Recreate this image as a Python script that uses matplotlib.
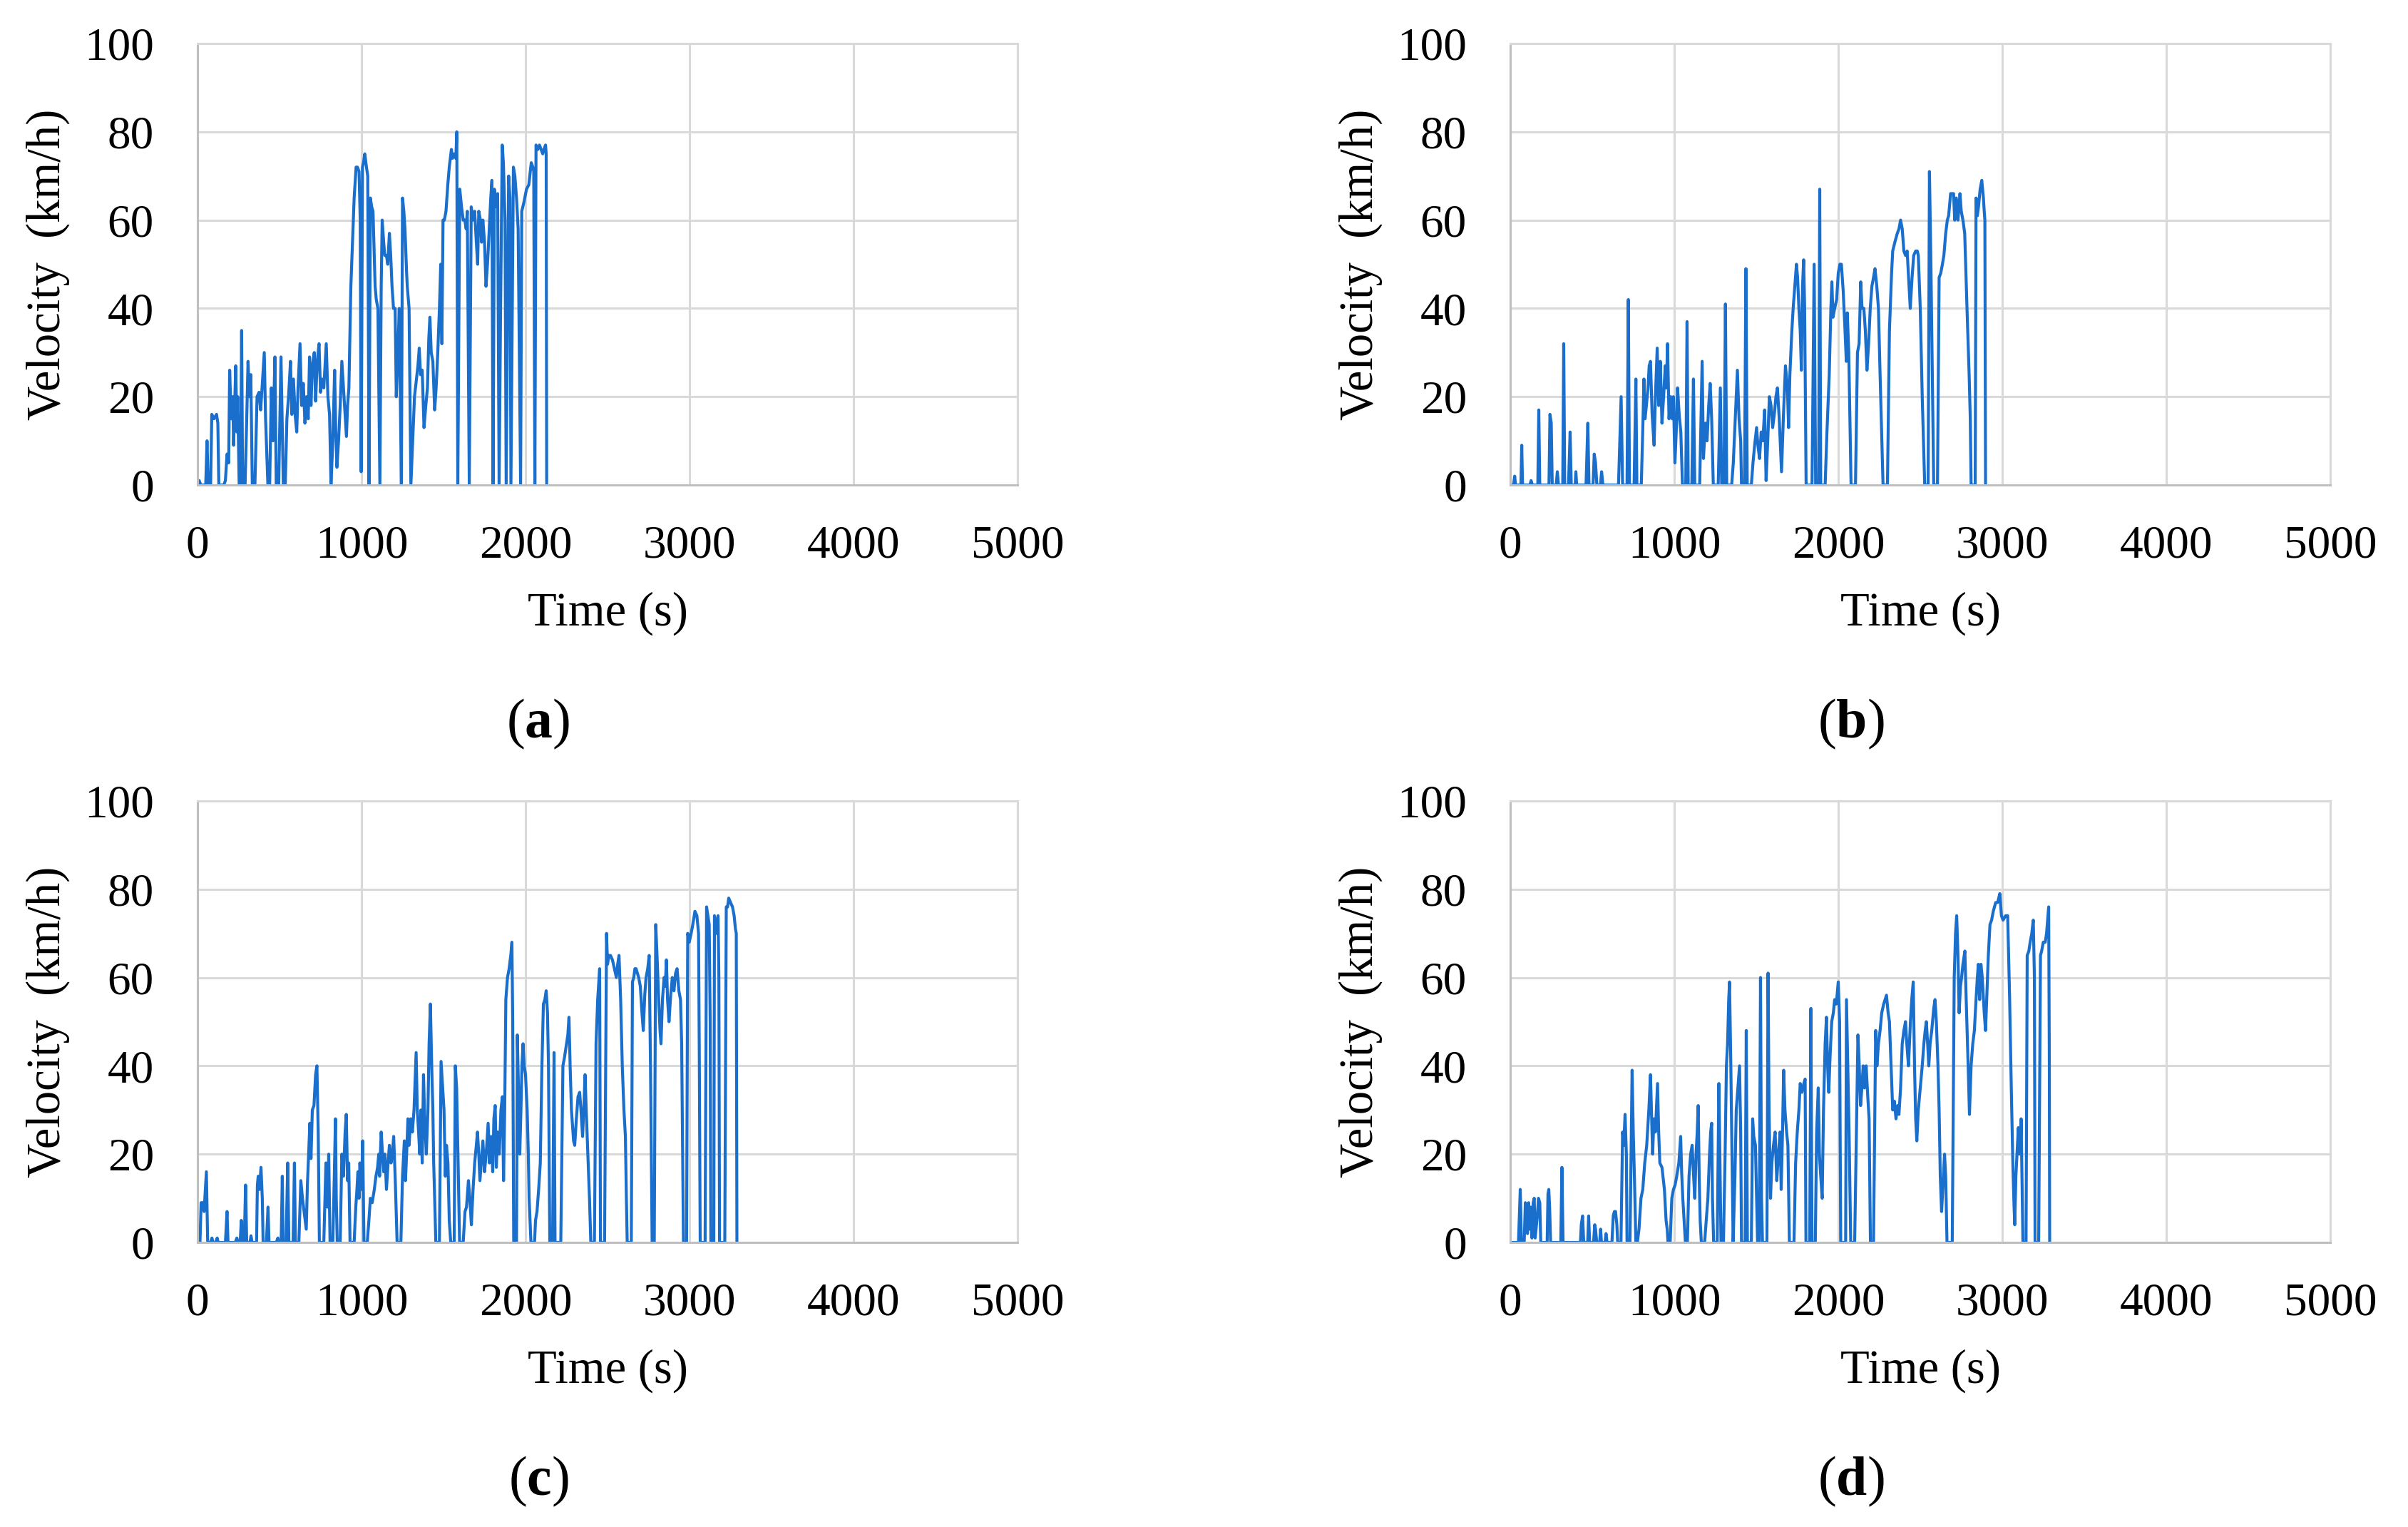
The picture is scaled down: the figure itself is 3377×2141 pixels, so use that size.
import numpy as np
import matplotlib
matplotlib.use("Agg")
import matplotlib.pyplot as plt

plt.rcParams["font.family"] = ["Liberation Serif", "DejaVu Serif"]
plt.rcParams["mathtext.fontset"] = "custom"
plt.rcParams["mathtext.rm"] = "Liberation Serif"
plt.rcParams["mathtext.bf"] = "Liberation Serif:bold"

# (time s, velocity km/h)
trace_a = [(0,0),(10,1),(20,0),(50,0),(58,10),(65,0),(80,0),(87,16),(100,15),(116,16),(124,14),(130,0),(160,0),(170,1),(180,7),(190,5),(196,26),(205,15),(215,20),(220,9),(233,27),(240,12),(245,20),(254,0),(262,0),(269,35),(275,0),(290,0),(300,15),(308,28),(316,20),(325,25),(334,0),(350,0),(363,20),(375,21),(385,17),(395,23),(407,30),(415,15),(429,0),(440,0),(450,22),(460,10),(472,29),(480,0),(495,0),(509,29),(516,15),(523,0),(535,0),(545,15),(555,20),(567,28),(575,16),(585,24),(595,16),(605,12),(613,22),(625,32),(635,18),(645,23),(655,14),(665,20),(675,15),(683,29),(692,18),(700,27),(712,30),(720,19),(730,28),(741,32),(750,21),(758,24),(770,22),(785,32),(795,20),(805,16),(814,0),(825,10),(836,26),(843,12),(850,4),(860,10),(870,18),(880,28),(890,22),(900,16),(908,11),(915,18),(923,22),(935,45),(945,55),(955,65),(967,72),(975,72),(985,71),(992,60),(998,3),(1006,72),(1012,73),(1020,75),(1030,72),(1038,70),(1046,0),(1054,65),(1062,63),(1070,62),(1083,45),(1090,42),(1100,40),(1112,0),(1120,45),(1126,60),(1135,55),(1142,52),(1152,52),(1160,50),(1170,57),(1178,52),(1186,45),(1195,40),(1205,40),(1212,20),(1222,30),(1230,40),(1243,0),(1250,65),(1258,62),(1265,58),(1275,48),(1279,45),(1290,40),(1301,0),(1312,10),(1323,20),(1335,24),(1344,27),(1352,31),(1360,25),(1370,26),(1381,13),(1392,18),(1402,22),(1410,33),(1417,38),(1425,30),(1435,28),(1446,17),(1455,22),(1465,30),(1475,40),(1483,50),(1490,32),(1497,60),(1505,60),(1515,62),(1526,68),(1535,72),(1548,76),(1555,74),(1565,75),(1575,74),(1581,80),(1587,0),(1599,67),(1610,63),(1620,60),(1630,60),(1638,58),(1645,62),(1657,0),(1669,63),(1680,60),(1690,62),(1700,55),(1708,50),(1715,62),(1725,60),(1732,55),(1740,60),(1750,55),(1759,45),(1768,50),(1775,55),(1788,65),(1795,69),(1802,0),(1810,67),(1820,63),(1830,66),(1839,0),(1848,40),(1858,77),(1865,73),(1875,60),(1882,0),(1897,70),(1905,65),(1911,0),(1926,72),(1935,70),(1945,65),(1955,58),(1970,0),(1977,62),(1990,64),(2006,67),(2020,68),(2035,73),(2045,72),(2050,71),(2057,0),(2064,77),(2075,76),(2085,77),(2095,76),(2105,75),(2112,76),(2122,77),(2126,75),(2129,0)]

trace_b = [(0,0),(20,0),(27,2),(32,0),(65,0),(70,9),(75,0),(120,0),(127,1),(135,0),(168,0),(174,17),(180,0),(236,0),(242,16),(250,14),(256,0),(280,0),(287,3),(294,0),(320,0),(326,32),(332,0),(355,0),(365,12),(372,0),(396,0),(400,3),(405,0),(462,0),(473,14),(480,0),(505,0),(512,7),(520,5),(528,0),(550,0),(557,3),(565,0),(660,0),(676,20),(685,0),(712,0),(720,42),(727,0),(755,0),(766,24),(772,0),(799,0),(809,14),(815,24),(822,15),(830,18),(840,22),(847,27),(855,28),(865,16),(877,9),(885,20),(896,31),(905,18),(915,28),(925,14),(935,20),(945,27),(952,22),(959,32),(968,15),(978,20),(987,15),(995,20),(1004,5),(1012,12),(1020,22),(1030,16),(1040,12),(1050,0),(1070,0),(1078,37),(1085,0),(1107,0),(1117,24),(1125,0),(1155,0),(1170,28),(1178,6),(1190,14),(1200,10),(1210,18),(1219,23),(1228,15),(1238,0),(1268,0),(1281,22),(1289,0),(1303,0),(1312,41),(1320,0),(1350,0),(1360,5),(1372,15),(1385,26),(1395,15),(1405,10),(1410,0),(1428,0),(1437,49),(1445,0),(1470,0),(1480,5),(1490,9),(1502,13),(1510,9),(1520,6),(1530,12),(1540,10),(1551,17),(1560,1),(1570,10),(1580,20),(1590,18),(1600,13),(1610,16),(1620,20),(1629,22),(1640,15),(1654,3),(1665,15),(1678,27),(1690,22),(1697,13),(1705,25),(1717,35),(1725,40),(1735,45),(1745,50),(1752,47),(1760,40),(1768,35),(1775,26),(1782,45),(1789,51),(1795,40),(1804,0),(1840,0),(1853,50),(1862,0),(1880,0),(1887,67),(1893,0),(1920,0),(1931,12),(1945,25),(1955,40),(1961,46),(1968,38),(1978,40),(1990,42),(2000,48),(2010,50),(2019,50),(2030,44),(2040,36),(2049,28),(2055,39),(2064,30),(2078,0),(2105,0),(2117,30),(2127,32),(2137,46),(2145,40),(2156,40),(2165,35),(2175,26),(2185,32),(2195,40),(2205,45),(2215,47),(2224,49),(2235,45),(2245,40),(2255,25),(2273,0),(2300,0),(2312,35),(2325,48),(2332,53),(2345,55),(2360,57),(2370,58),(2380,60),(2390,58),(2400,53),(2410,52),(2420,53),(2430,46),(2439,40),(2450,47),(2460,52),(2472,53),(2482,53),(2488,52),(2500,40),(2512,20),(2527,0),(2548,0),(2556,71),(2565,50),(2575,20),(2582,0),(2605,0),(2615,47),(2625,48),(2635,50),(2644,52),(2655,57),(2665,60),(2673,61),(2685,66),(2695,66),(2703,66),(2710,60),(2720,65),(2730,60),(2742,66),(2750,62),(2760,60),(2771,57),(2785,40),(2798,25),(2805,15),(2810,0),(2835,0),(2840,65),(2848,61),(2855,63),(2865,67),(2875,69),(2885,65),(2890,62),(2894,60),(2898,0)]

trace_c = [(0,0),(15,0),(22,9),(30,9),(40,7),(54,16),(62,0),(80,0),(88,1),(94,0),(110,0),(120,1),(126,0),(170,0),(180,7),(186,0),(230,0),(240,1),(246,0),(260,0),(267,5),(275,0),(285,0),(293,13),(300,0),(320,0),(326,1.5),(333,0),(360,0),(365,13),(370,15),(378,12),(387,17),(395,10),(400,0),(420,0),(430,8),(436,0),(480,0),(490,1),(496,0),(510,0),(517,15),(522,0),(540,0),(550,18),(557,0),(583,0),(591,18),(597,0),(618,0),(630,14),(640,10),(650,7),(663,3),(670,13),(685,27),(692,19),(700,30),(710,31),(720,38),(728,40),(736,25),(743,0),(770,0),(783,18),(792,8),(800,20),(808,0),(825,0),(834,15),(841,28),(846,10),(852,0),(870,0),(880,20),(890,15),(900,25),(907,29),(915,14),(922,18),(930,0),(955,0),(965,8),(972,12),(978,16),(985,10),(990,18),(1000,12),(1007,23),(1015,0),(1035,0),(1045,5),(1054,10),(1065,9),(1078,12),(1088,15),(1098,17),(1105,20),(1110,15),(1120,25),(1128,20),(1135,16),(1143,20),(1152,12),(1162,18),(1170,22),(1180,18),(1188,20),(1196,24),(1205,15),(1217,0),(1240,0),(1250,15),(1261,23),(1268,14),(1275,20),(1283,28),(1290,22),(1300,28),(1310,25),(1320,30),(1333,43),(1340,30),(1348,25),(1355,20),(1362,30),(1370,18),(1378,38),(1385,28),(1395,20),(1405,30),(1412,45),(1420,54),(1428,40),(1435,30),(1440,18),(1446,10),(1453,0),(1475,0),(1485,41),(1495,35),(1503,30),(1511,15),(1518,22),(1527,18),(1535,5),(1544,0),(1565,0),(1572,40),(1580,35),(1588,20),(1598,0),(1620,0),(1631,7),(1640,8),(1652,14),(1660,10),(1670,4),(1680,12),(1690,18),(1700,22),(1707,25),(1715,20),(1722,14),(1730,18),(1740,23),(1750,16),(1760,20),(1772,27),(1780,18),(1790,24),(1800,16),(1807,28),(1815,31),(1822,17),(1830,25),(1840,20),(1850,30),(1859,33),(1866,14),(1873,30),(1880,55),(1890,60),(1900,62),(1910,65),(1917,68),(1922,50),(1928,0),(1945,0),(1950,47),(1957,35),(1965,20),(1972,30),(1978,40),(1985,45),(1992,40),(2000,38),(2010,30),(2017,20),(2022,10),(2033,0),(2055,0),(2061,5),(2070,7),(2080,12),(2090,18),(2100,40),(2109,54),(2118,55),(2126,57),(2134,52),(2140,40),(2148,0),(2165,0),(2174,43),(2180,0),(2215,0),(2228,40),(2238,42),(2250,45),(2258,47),(2265,51),(2272,40),(2280,30),(2293,23),(2300,22),(2310,28),(2320,33),(2330,34),(2338,30),(2348,24),(2355,30),(2363,38),(2370,30),(2380,20),(2390,10),(2398,0),(2420,0),(2430,45),(2440,55),(2452,62),(2457,0),(2482,0),(2494,70),(2500,63),(2508,65),(2518,65),(2530,64),(2542,62),(2554,60),(2562,63),(2570,65),(2580,55),(2590,40),(2600,30),(2609,24),(2615,10),(2620,0),(2645,0),(2652,59),(2660,60),(2667,62),(2674,62),(2682,61),(2690,60),(2700,58),(2710,52),(2718,48),(2727,56),(2735,60),(2745,62),(2754,65),(2762,40),(2772,0),(2785,0),(2794,72),(2803,64),(2812,55),(2820,48),(2826,45),(2835,55),(2845,60),(2852,58),(2859,64),(2866,55),(2875,50),(2885,56),(2895,60),(2905,57),(2915,61),(2924,62),(2935,57),(2945,55),(2952,45),(2958,20),(2963,0),(2982,0),(2989,70),(2998,68),(3010,70),(3020,72),(3033,75),(3045,74),(3055,70),(3060,40),(3065,0),(3095,0),(3104,76),(3112,74),(3120,72),(3126,50),(3130,0),(3148,0),(3152,74),(3160,72),(3166,70),(3174,74),(3179,60),(3183,0),(3215,0),(3224,76),(3232,76),(3239,78),(3250,77),(3262,76),(3272,74),(3280,71),(3285,70),(3289,0)]

trace_d = [(0,0),(50,0),(61,12),(68,0),(85,0),(92,9),(98,8),(105,2),(112,9),(118,3),(125,8),(132,1),(140,9),(146,10),(152,1),(165,6),(172,10),(180,9),(186,0),(225,0),(230,11),(235,12),(240,8),(246,0),(308,0),(315,17),(322,0),(428,0),(433,4),(441,6),(448,0),(472,0),(478,6),(484,0),(508,0),(515,4),(520,3),(527,0),(545,0),(551,3),(556,0),(578,0),(584,2),(590,0),(620,0),(628,6),(635,7),(642,7),(650,4),(655,0),(675,0),(685,25),(692,22),(700,29),(708,20),(712,0),(730,0),(743,39),(750,25),(757,15),(766,0),(775,0),(785,3),(797,10),(808,12),(820,18),(832,22),(845,30),(855,38),(862,28),(868,20),(876,28),(885,25),(898,36),(905,25),(912,18),(925,17),(940,12),(950,5),(957,3),(962,0),(975,0),(985,10),(995,12),(1005,13),(1015,15),(1028,18),(1039,24),(1045,16),(1052,10),(1060,5),(1068,0),(1080,0),(1090,15),(1100,20),(1109,22),(1118,15),(1125,10),(1133,20),(1140,25),(1146,31),(1152,15),(1158,5),(1165,0),(1185,0),(1195,5),(1205,10),(1215,20),(1222,25),(1228,27),(1233,10),(1240,0),(1262,0),(1272,36),(1278,20),(1285,0),(1300,0),(1310,20),(1318,40),(1325,45),(1332,55),(1337,59),(1345,40),(1352,20),(1359,0),(1370,15),(1378,30),(1388,35),(1398,40),(1405,25),(1410,0),(1432,0),(1439,48),(1446,0),(1470,0),(1478,28),(1485,24),(1495,22),(1502,10),(1508,0),(1518,0),(1526,60),(1532,10),(1538,0),(1565,0),(1572,61),(1578,30),(1587,10),(1595,18),(1605,22),(1615,25),(1625,14),(1635,20),(1645,25),(1652,12),(1660,25),(1667,39),(1675,30),(1685,25),(1693,22),(1702,0),(1730,0),(1740,18),(1750,25),(1760,30),(1768,36),(1778,34),(1790,36),(1798,37),(1803,0),(1826,0),(1833,53),(1840,0),(1860,0),(1868,25),(1878,35),(1885,20),(1893,15),(1902,10),(1910,30),(1920,45),(1928,51),(1935,40),(1942,34),(1950,42),(1960,50),(1970,52),(1978,55),(1988,54),(2000,59),(2008,50),(2015,0),(2045,0),(2050,55),(2058,40),(2066,25),(2076,0),(2100,0),(2113,30),(2120,47),(2128,40),(2136,31),(2144,35),(2152,40),(2160,35),(2170,40),(2180,33),(2188,28),(2196,0),(2215,0),(2228,48),(2236,40),(2245,45),(2255,48),(2265,52),(2277,54),(2294,56),(2304,52),(2312,50),(2322,40),(2332,30),(2342,32),(2352,28),(2362,31),(2370,29),(2380,35),(2390,45),(2400,48),(2410,50),(2418,45),(2428,40),(2440,50),(2448,55),(2457,59),(2465,40),(2472,28),(2479,23),(2488,30),(2500,35),(2512,40),(2522,45),(2530,48),(2537,50),(2545,45),(2552,40),(2560,45),(2570,48),(2582,53),(2590,55),(2598,50),(2608,40),(2615,30),(2622,15),(2630,7),(2640,14),(2648,20),(2655,15),(2663,0),(2695,0),(2707,60),(2715,70),(2722,74),(2730,65),(2737,52),(2745,58),(2752,60),(2760,63),(2772,66),(2780,55),(2792,40),(2800,29),(2810,40),(2820,45),(2830,48),(2840,55),(2848,60),(2854,63),(2862,55),(2870,63),(2878,60),(2890,52),(2898,48),(2905,55),(2915,65),(2925,72),(2935,73),(2945,75),(2960,77),(2972,77),(2985,79),(2995,74),(3005,73),(3020,74),(3033,74),(3045,55),(3055,35),(3065,17),(3072,8),(3076,4),(3083,15),(3090,20),(3098,26),(3105,20),(3112,22),(3115,28),(3120,15),(3126,0),(3145,0),(3152,65),(3162,66),(3170,68),(3180,70),(3189,73),(3196,60),(3200,0),(3222,0),(3233,65),(3240,66),(3250,68),(3262,68),(3270,70),(3283,76),(3287,40),(3289,0)]

panel_labels = ["a", "b", "c", "d"]
x_ticks = [0, 1000, 2000, 3000, 4000, 5000]
y_ticks = [0, 20, 40, 60, 80, 100]

W, H = 3377, 2141
fig = plt.figure(figsize=(W / 100, H / 100), dpi=100)

# axes boxes in pixels: left, top, right, bottom
boxes = [(277, 61, 1427, 680), (2118, 61, 3268, 680),
         (277, 1123, 1427, 1742), (2118, 1123, 3268, 1742)]
traces = [trace_a, trace_b, trace_c, trace_d]

grid_col = "#d9d9d9"
line_col = "#1a6fcc"

for (l, t, r, b), tr, lab in zip(boxes, traces, panel_labels):
    ax = fig.add_axes([l / W, 1 - b / H, (r - l) / W, (b - t) / H])
    arr = np.array(tr, dtype=float)
    ax.plot(arr[:, 0], arr[:, 1], color=line_col, lw=3.0)
    ax.set_xlim(0, 5000)
    ax.set_ylim(0, 100)
    ax.set_xticks(x_ticks)
    ax.set_yticks(y_ticks)
    ax.grid(True, color=grid_col, lw=2.2)
    ax.set_axisbelow(True)
    for s in ax.spines.values():
        s.set_color(grid_col)
        s.set_linewidth(2.2)
    ax.spines["left"].set_color("#bfbfbf")
    ax.spines["bottom"].set_color("#bfbfbf")
    ax.tick_params(length=0, labelsize=47, pad=40)
    ax.tick_params(axis="y", pad=44)
    ax.set_xlabel("Time (s)", fontsize=48, va="center")
    ax.xaxis.set_label_coords(0.5, -0.291)
    ax.set_ylabel("Velocity  (km/h)", fontsize=48, va="center")
    ax.yaxis.set_label_coords(-0.182, 0.5)
    cx = (l + r) / 2 - 97
    cy = b + 335
    fig.text(cx / W, 1 - cy / H, r"($\mathbf{" + lab + r"}$)", fontsize=56,
             ha="center", va="center")

fig.savefig("out.png", dpi=100, facecolor="white")
